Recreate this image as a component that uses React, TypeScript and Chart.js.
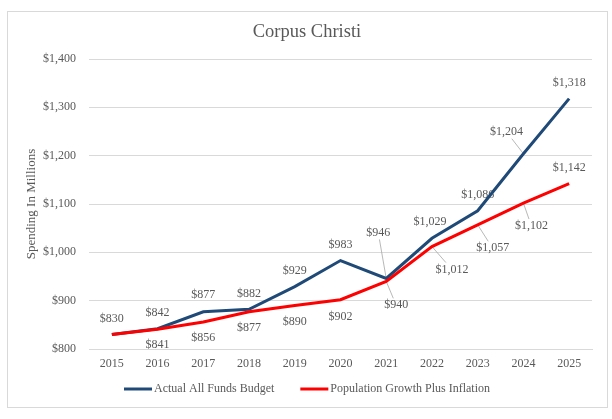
import React, { useEffect, useRef } from "react";
import { Chart, registerables } from "chart.js";

Chart.register(...registerables);

const years = ["2015", "2016", "2017", "2018", "2019", "2020", "2021", "2022", "2023", "2024", "2025"];
const actualBudget = [830, 842, 877, 882, 929, 983, 946, 1029, 1086, 1204, 1318];
const popInflation = [830, 841, 856, 877, 890, 902, 940, 1012, 1057, 1102, 1142];
const yMin = 800;
const yMax = 1400;
const yStep = 100;

const TITLE = "Corpus Christi";
const Y_TITLE = "Spending In Millions";
const SERIES_NAMES = ["Actual All Funds Budget", "Population Growth Plus Inflation"];
const NAVY = "#1f4a78";
const RED = "#ff0000";
const TEXT = "#595959";
const GRID = "#d9d9d9";
const FONT = "'Liberation Serif', 'Times New Roman', serif";

// label placement (offset of label centre from its point), null = hidden
type Off = [number, number, boolean] | null;
const actualLabelOffsets: Off[] = [
  [0, -16, false], [0, -16, false], [0, -17, false], [0, -16, false], [0, -16, false],
  [0, -16, false], [-8, -46, true], [-2, -16, false], [0, -16, false], [-17, -22, true], [0, -16, false],
];
const popLabelOffsets: Off[] = [
  null, [0, 16, false], [0, 16, false], [0, 16.5, false], [0, 16, false],
  [0, 17, false], [10, 24, true], [20, 23, true], [15, 23.5, true], [8, 23, true], [0, -16, false],
];

const fmt = (v: number) => "$" + v.toLocaleString("en-US");

const decorPlugin = {
  id: "decor",
  beforeDraw(chart: any) {
    const ctx = chart.ctx;
    ctx.save();
    ctx.fillStyle = "#ffffff";
    ctx.fillRect(0, 0, chart.width, chart.height);
    ctx.strokeStyle = GRID;
    ctx.lineWidth = 1;
    ctx.strokeRect(7.5, 11.5, 600, 396);
    ctx.restore();
  },
  afterDraw(chart: any) {
    const ctx = chart.ctx;
    ctx.save();
    ctx.fillStyle = TEXT;
    ctx.textAlign = "center";
    ctx.textBaseline = "middle";
    ctx.font = `18.5px ${FONT}`;
    ctx.fillText(TITLE, 307, 32);
    ctx.save();
    ctx.translate(32, 204);
    ctx.rotate(-Math.PI / 2);
    ctx.font = `13px ${FONT}`;
    ctx.fillText(Y_TITLE, 0, 0);
    ctx.restore();
    // legend
    ctx.font = `12px ${FONT}`;
    const ds = chart.data.datasets;
    const lineW = 28;
    const gap = 2;
    const itemGap = 26;
    const widths = ds.map((d: any) => lineW + gap + ctx.measureText(d.label).width);
    const total = widths.reduce((a: number, b: number) => a + b, 0) + itemGap * (ds.length - 1);
    let x = 307 - total / 2;
    const y = 389;
    ds.forEach((d: any, i: number) => {
      ctx.strokeStyle = d.borderColor;
      ctx.lineWidth = 3;
      ctx.beginPath();
      ctx.moveTo(x, y);
      ctx.lineTo(x + lineW, y);
      ctx.stroke();
      ctx.fillStyle = TEXT;
      ctx.textAlign = "left";
      ctx.fillText(d.label, x + lineW + gap, y);
      x += widths[i] + itemGap;
    });
    ctx.restore();
  },
  beforeDatasetsDraw(chart: any) {
    const ctx = chart.ctx;
    ctx.save();
    ctx.font = `12px ${FONT}`;
    ctx.textAlign = "center";
    ctx.textBaseline = "middle";
    const offsets = [actualLabelOffsets, popLabelOffsets];
    chart.data.datasets.forEach((d: any, di: number) => {
      const meta = chart.getDatasetMeta(di);
      meta.data.forEach((pt: any, i: number) => {
        const off = offsets[di][i];
        if (!off) return;
        const cx = pt.x + off[0];
        const cy = pt.y + off[1];
        const text = fmt(d.data[i]);
        if (off[2]) {
          const hw = ctx.measureText(text).width / 2 + 1;
          const hh = 7;
          const dx = cx - pt.x;
          const dy = cy - pt.y;
          const tx = Math.abs(dx) > 0 ? (Math.abs(dx) - hw) / Math.abs(dx) : -1;
          const ty = Math.abs(dy) > 0 ? (Math.abs(dy) - hh) / Math.abs(dy) : -1;
          const t = Math.max(0, tx, ty);
          ctx.strokeStyle = "#a6a6a6";
          ctx.lineWidth = 0.8;
          ctx.beginPath();
          ctx.moveTo(pt.x, pt.y);
          ctx.lineTo(pt.x + dx * t, pt.y + dy * t);
          ctx.stroke();
        }
        ctx.fillStyle = TEXT;
        ctx.fillText(text, cx, cy);
      });
    });
    ctx.restore();
  },
};

export default function App() {
  const ref = useRef<HTMLCanvasElement | null>(null);
  useEffect(() => {
    if (!ref.current) return;
    const chart = new Chart(ref.current, {
      type: "line",
      data: {
        labels: years,
        datasets: [
          {
            label: SERIES_NAMES[0],
            data: actualBudget,
            borderColor: NAVY,
            backgroundColor: NAVY,
            borderWidth: 3,
            pointRadius: 0,
            tension: 0,
            order: 1,
          },
          {
            label: SERIES_NAMES[1],
            data: popInflation,
            borderColor: RED,
            backgroundColor: RED,
            borderWidth: 3,
            pointRadius: 0,
            tension: 0,
            order: 0,
          },
        ],
      },
      options: {
        animation: false,
        responsive: false,
        layout: { padding: { left: 0, right: 20, top: 59, bottom: 0 } },
        plugins: {
          legend: { display: false },
          title: { display: false },
          tooltip: { enabled: false },
        },
        scales: {
          x: {
            type: "category",
            offset: true,
            grid: { display: false, drawTicks: false },
            border: { display: true, color: GRID },
            ticks: { color: TEXT, font: { family: FONT, size: 12 }, padding: 8, maxRotation: 0 },
            afterFit: (s: any) => {
              s.height = 70;
            },
          },
          y: {
            min: yMin,
            max: yMax,
            grid: { color: GRID, drawTicks: false },
            border: { display: false },
            ticks: {
              stepSize: yStep,
              color: TEXT,
              padding: 13,
              font: { family: FONT, size: 12 },
              callback: (v: any) => fmt(Number(v)),
            },
            afterFit: (s: any) => {
              s.width = 89;
            },
          },
        },
      },
      plugins: [decorPlugin],
    });
    return () => chart.destroy();
  }, []);
  return (
    <div style={{ position: "fixed", left: 0, top: 0, width: 612, height: 419, background: "#fff" }}>
      <canvas ref={ref} width={612} height={419} style={{ width: 612, height: 419, display: "block" }} />
    </div>
  );
}
